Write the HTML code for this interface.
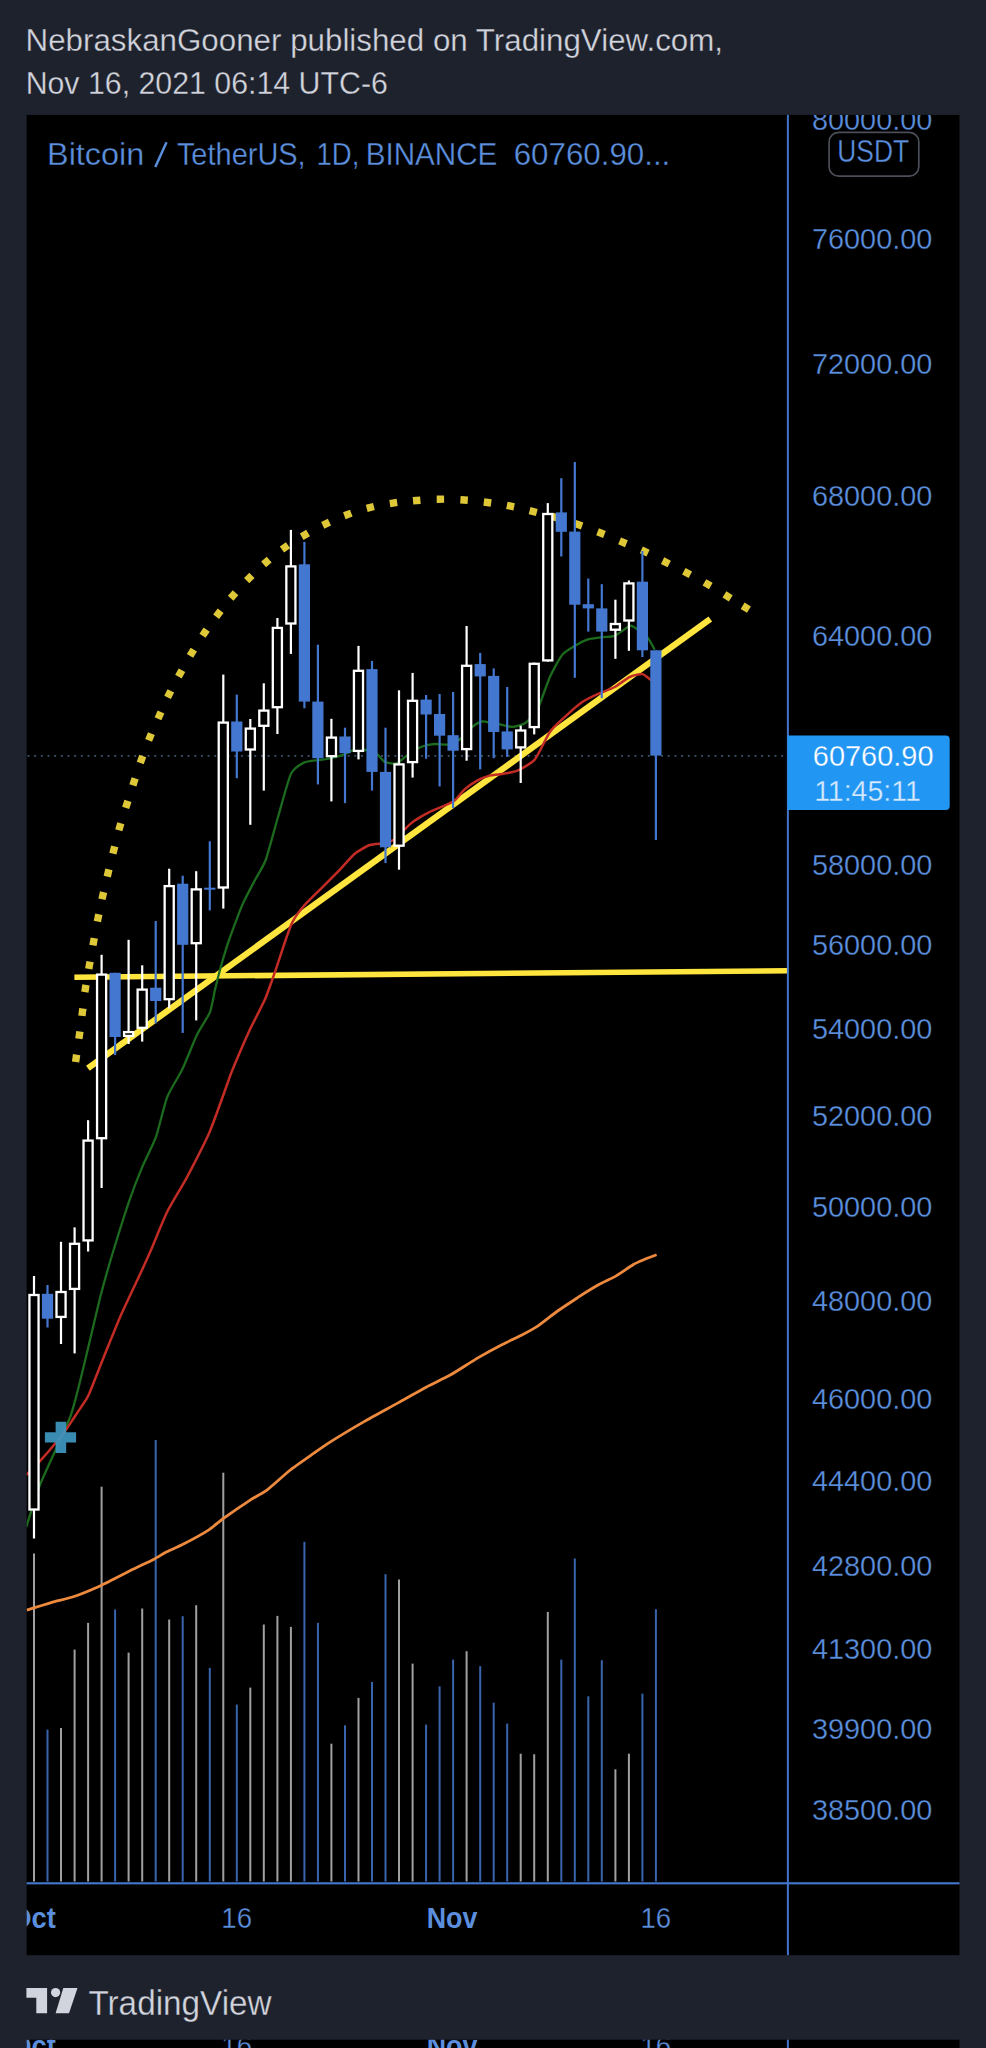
<!DOCTYPE html>
<html><head><meta charset="utf-8"><title>chart</title>
<style>
html,body{margin:0;padding:0;background:#1e222d;}
body{width:986px;height:2048px;overflow:hidden;}
svg{display:block;}
text{font-family:"Liberation Sans",sans-serif;}
</style></head><body>
<svg width="986" height="2048" viewBox="0 0 986 2048">
<rect x="0" y="0" width="986" height="2048" fill="#1e222d"/>
<text x="25.58" y="50.7" font-size="31" fill="#d1d4dc" textLength="697.41" lengthAdjust="spacingAndGlyphs" xml:space="preserve" stroke="#1e222d" stroke-width="0.3">NebraskanGooner published on TradingView.com,</text>
<text x="25.64" y="93.5" font-size="31" fill="#d1d4dc" textLength="362.24" lengthAdjust="spacingAndGlyphs" xml:space="preserve" stroke="#1e222d" stroke-width="0.3">Nov 16, 2021 06:14 UTC-6</text>
<defs><clipPath id="cc"><rect x="26.6" y="114.9" width="932.9" height="1840.3"/></clipPath>
<clipPath id="cb"><rect x="26.6" y="2039.7" width="932.9" height="9"/></clipPath></defs>
<rect x="26.6" y="114.9" width="932.9" height="1840.3" fill="#000"/>
<rect x="26.6" y="2039.7" width="932.9" height="9" fill="#000"/>
<g clip-path="url(#cc)">

<line x1="27.5" y1="755.9" x2="787" y2="755.9" stroke="#43536e" stroke-width="1.9" stroke-dasharray="1.9 4.77"/>
<rect x="33.0" y="1553.5" width="2" height="328.0" fill="#a0a0a0"/>
<rect x="46.5" y="1729.6" width="2" height="151.9" fill="#3865ab"/>
<rect x="60.0" y="1728.0" width="2" height="153.5" fill="#a0a0a0"/>
<rect x="73.6" y="1649.6" width="2" height="231.9" fill="#a0a0a0"/>
<rect x="87.1" y="1622.9" width="2" height="258.6" fill="#a0a0a0"/>
<rect x="100.6" y="1486.7" width="2" height="394.8" fill="#a0a0a0"/>
<rect x="114.1" y="1609.5" width="2" height="272.0" fill="#3865ab"/>
<rect x="127.6" y="1652.6" width="2" height="228.9" fill="#a0a0a0"/>
<rect x="141.2" y="1608.5" width="2" height="273.0" fill="#a0a0a0"/>
<rect x="154.7" y="1440.0" width="2" height="441.5" fill="#3865ab"/>
<rect x="168.2" y="1619.5" width="2" height="262.0" fill="#a0a0a0"/>
<rect x="181.7" y="1616.2" width="2" height="265.3" fill="#3865ab"/>
<rect x="195.2" y="1605.2" width="2" height="276.3" fill="#a0a0a0"/>
<rect x="208.8" y="1667.9" width="2" height="213.6" fill="#3865ab"/>
<rect x="222.3" y="1472.7" width="2" height="408.8" fill="#a0a0a0"/>
<rect x="235.8" y="1704.6" width="2" height="176.9" fill="#3865ab"/>
<rect x="249.3" y="1687.6" width="2" height="193.9" fill="#a0a0a0"/>
<rect x="262.8" y="1624.5" width="2" height="257.0" fill="#a0a0a0"/>
<rect x="276.4" y="1615.9" width="2" height="265.6" fill="#a0a0a0"/>
<rect x="289.9" y="1626.9" width="2" height="254.6" fill="#a0a0a0"/>
<rect x="303.4" y="1541.8" width="2" height="339.7" fill="#3865ab"/>
<rect x="316.9" y="1622.9" width="2" height="258.6" fill="#3865ab"/>
<rect x="330.4" y="1743.7" width="2" height="137.8" fill="#a0a0a0"/>
<rect x="344.0" y="1725.3" width="2" height="156.2" fill="#3865ab"/>
<rect x="357.5" y="1697.9" width="2" height="183.6" fill="#a0a0a0"/>
<rect x="371.0" y="1681.9" width="2" height="199.6" fill="#3865ab"/>
<rect x="384.5" y="1574.2" width="2" height="307.3" fill="#3865ab"/>
<rect x="398.0" y="1579.5" width="2" height="302.0" fill="#a0a0a0"/>
<rect x="411.6" y="1663.6" width="2" height="217.9" fill="#a0a0a0"/>
<rect x="425.1" y="1724.6" width="2" height="156.9" fill="#3865ab"/>
<rect x="438.6" y="1686.3" width="2" height="195.2" fill="#3865ab"/>
<rect x="452.1" y="1659.6" width="2" height="221.9" fill="#3865ab"/>
<rect x="465.6" y="1651.2" width="2" height="230.3" fill="#a0a0a0"/>
<rect x="479.2" y="1666.2" width="2" height="215.3" fill="#3865ab"/>
<rect x="492.7" y="1702.6" width="2" height="178.9" fill="#3865ab"/>
<rect x="506.2" y="1723.6" width="2" height="157.9" fill="#3865ab"/>
<rect x="519.7" y="1753.7" width="2" height="127.8" fill="#a0a0a0"/>
<rect x="533.2" y="1754.3" width="2" height="127.2" fill="#a0a0a0"/>
<rect x="546.8" y="1611.9" width="2" height="269.6" fill="#a0a0a0"/>
<rect x="560.3" y="1659.6" width="2" height="221.9" fill="#3865ab"/>
<rect x="573.8" y="1558.5" width="2" height="323.0" fill="#3865ab"/>
<rect x="587.3" y="1696.3" width="2" height="185.2" fill="#3865ab"/>
<rect x="600.8" y="1660.2" width="2" height="221.3" fill="#3865ab"/>
<rect x="614.4" y="1769.3" width="2" height="112.2" fill="#a0a0a0"/>
<rect x="627.9" y="1753.7" width="2" height="127.8" fill="#a0a0a0"/>
<rect x="641.4" y="1693.6" width="2" height="187.9" fill="#3865ab"/>
<rect x="654.9" y="1609.2" width="2" height="272.3" fill="#3865ab"/>
<line x1="74.4" y1="977.2" x2="787" y2="970.8" stroke="#ffe53e" stroke-width="5.6"/>
<line x1="87.9" y1="1068.3" x2="710.3" y2="619.1" stroke="#ffe53e" stroke-width="6.2"/>
<path d="M26.7 1610.2 C29.4 1609.4 48.7 1603.1 53.4 1601.8 C58.1 1600.5 68.6 1598.5 73.4 1596.8 C78.2 1595.1 96.0 1587.8 101.7 1585.2 C107.4 1582.6 124.9 1573.4 130.1 1570.8 C135.3 1568.2 149.8 1561.4 153.5 1559.5 C157.2 1557.6 163.8 1553.3 166.8 1551.8 C169.8 1550.3 179.3 1546.3 183.5 1544.1 C187.7 1541.9 204.5 1532.7 208.5 1530.1 C212.5 1527.5 219.3 1521.4 223.5 1518.4 C227.7 1515.4 245.9 1502.9 250.2 1500.1 C254.5 1497.3 262.9 1493.1 266.9 1490.1 C270.9 1487.1 285.6 1473.7 290.3 1470.0 C295.0 1466.3 309.6 1456.2 313.6 1453.4 C317.6 1450.6 324.9 1445.3 330.0 1442.1 C335.1 1438.9 357.6 1425.4 364.5 1421.4 C371.4 1417.4 392.8 1405.9 399.0 1402.4 C405.2 1399.0 421.4 1389.7 426.6 1386.9 C431.8 1384.1 445.5 1377.7 450.7 1374.8 C455.9 1371.9 473.1 1360.6 478.3 1357.6 C483.5 1354.6 498.1 1346.7 502.4 1344.5 C506.7 1342.3 517.9 1337.0 521.4 1335.2 C524.9 1333.4 533.3 1329.0 536.9 1326.6 C540.5 1324.2 553.5 1313.9 557.6 1311.0 C561.7 1308.1 574.2 1299.9 578.3 1297.2 C582.4 1294.5 595.2 1286.6 599.0 1284.5 C602.8 1282.4 612.8 1277.9 616.2 1275.9 C619.6 1273.9 630.5 1266.2 633.4 1264.5 C636.3 1262.8 643.2 1260.0 645.5 1259.0 C647.8 1258.0 655.5 1255.2 656.6 1254.8" fill="none" stroke="#ee8a3e" stroke-width="2.8" stroke-linejoin="round"/>
<path d="M26.3 1527.0 C27.7 1522.7 35.9 1495.2 40.3 1484.0 C44.7 1472.8 66.1 1428.2 70.7 1415.5 C75.3 1402.8 82.9 1369.4 85.9 1357.2 C88.9 1345.0 98.3 1304.5 101.1 1293.8 C103.9 1283.1 110.7 1259.5 113.6 1250.0 C116.5 1240.5 126.9 1207.6 129.8 1199.3 C132.7 1191.0 139.7 1173.1 142.3 1166.9 C144.9 1160.7 153.5 1143.9 156.0 1136.9 C158.5 1129.9 164.6 1103.7 167.2 1097.0 C169.8 1090.3 179.2 1075.8 182.2 1069.6 C185.2 1063.4 194.3 1040.3 197.1 1034.6 C199.9 1028.8 208.2 1016.6 210.0 1012.1 C211.8 1007.6 214.0 993.9 215.0 989.7 C216.0 985.5 218.8 974.2 220.0 969.7 C221.2 965.2 225.7 950.0 227.4 944.8 C229.1 939.6 235.7 921.8 237.4 917.3 C239.1 912.8 242.8 903.7 244.6 900.0 C246.4 896.3 252.9 884.0 255.0 880.0 C257.1 876.0 263.4 866.3 265.7 860.0 C268.0 853.7 275.5 825.6 278.0 817.0 C280.5 808.4 288.3 779.3 290.9 773.9 C293.5 768.5 301.1 764.0 303.9 762.6 C306.7 761.2 315.9 760.5 318.5 760.1 C321.1 759.7 327.3 759.1 329.9 758.5 C332.5 757.9 342.2 755.2 344.5 754.4 C346.8 753.6 351.1 750.9 352.6 750.4 C354.1 749.9 357.6 749.3 359.8 749.5 C362.0 749.7 372.3 750.8 374.8 752.0 C377.3 753.2 382.6 760.8 384.8 761.9 C387.0 763.0 394.7 764.1 397.2 763.2 C399.7 762.3 407.2 754.9 409.7 753.2 C412.2 751.5 419.7 747.4 422.2 746.5 C424.7 745.6 432.0 744.2 434.7 744.0 C437.4 743.8 447.1 745.0 449.6 744.5 C452.1 744.0 457.4 741.2 459.6 739.5 C461.9 737.8 469.9 728.8 472.1 727.0 C474.4 725.2 480.1 721.9 482.1 721.5 C484.1 721.1 490.2 723.0 492.0 723.3 C493.8 723.6 497.9 724.0 500.0 724.4 C502.1 724.8 510.0 727.0 512.5 726.9 C515.0 726.8 522.5 724.9 525.0 723.2 C527.5 721.5 534.9 714.1 537.4 709.5 C539.9 704.9 547.4 682.5 549.9 677.0 C552.4 671.5 559.9 657.7 562.4 654.6 C564.9 651.5 572.4 647.3 574.9 645.8 C577.4 644.3 584.6 640.5 587.3 639.6 C590.0 638.7 599.5 637.5 602.3 637.1 C605.0 636.7 612.1 637.0 614.8 635.9 C617.5 634.8 627.6 626.6 629.7 625.9 C631.8 625.1 634.2 627.3 636.0 628.4 C637.8 629.5 645.3 635.0 647.2 637.1 C649.1 639.2 654.0 648.4 654.7 649.6" fill="none" stroke="#1c6a1e" stroke-width="2.3" stroke-linejoin="round"/>
<path d="M26.3 1475.0 C27.7 1473.5 37.8 1463.4 40.6 1460.3 C43.5 1457.2 52.2 1447.2 54.8 1444.0 C57.4 1440.8 65.0 1431.0 66.9 1428.4 C68.8 1425.8 72.6 1419.8 74.0 1417.7 C75.4 1415.6 79.6 1409.3 81.1 1407.1 C82.5 1404.8 86.2 1400.2 88.5 1395.2 C90.8 1390.2 100.4 1365.3 103.7 1357.2 C107.0 1349.1 117.9 1322.2 121.4 1314.1 C125.0 1306.0 136.2 1282.4 139.2 1276.0 C142.2 1269.6 148.2 1256.4 151.0 1250.0 C153.8 1243.6 163.6 1219.1 167.2 1211.8 C170.8 1204.5 183.0 1184.8 187.2 1176.8 C191.4 1168.8 205.6 1141.1 209.6 1131.9 C213.6 1122.7 224.8 1090.7 227.1 1084.5 C229.4 1078.3 230.1 1075.5 232.4 1070.0 C234.7 1064.5 246.7 1036.6 249.9 1029.6 C253.2 1022.6 262.4 1005.3 264.9 999.6 C267.4 993.9 272.9 977.9 274.9 972.2 C276.9 966.5 283.1 947.3 284.8 942.3 C286.5 937.3 290.3 926.0 292.3 922.3 C294.3 918.5 301.6 908.5 304.8 904.8 C308.1 901.1 321.3 888.4 324.8 884.9 C328.3 881.4 336.7 873.0 339.7 869.9 C342.7 866.8 351.7 856.2 354.7 853.7 C357.7 851.2 366.7 846.1 369.7 845.0 C372.7 843.9 382.3 843.6 384.8 843.0 C387.3 842.4 392.7 840.7 394.7 839.3 C396.7 837.9 402.7 831.2 404.7 829.3 C406.7 827.4 412.2 822.4 414.7 820.6 C417.2 818.9 426.7 813.3 429.7 811.8 C432.7 810.3 442.1 806.7 444.6 805.6 C447.1 804.5 452.6 802.2 454.6 800.6 C456.6 799.0 462.4 791.4 464.6 789.4 C466.9 787.4 474.6 782.0 477.1 780.6 C479.6 779.2 487.2 776.2 489.5 775.6 C491.8 775.0 497.2 774.8 500.0 774.3 C502.8 773.8 514.0 772.1 517.5 770.6 C521.0 769.1 531.7 763.3 534.9 759.4 C538.1 755.5 546.9 736.1 549.9 731.9 C552.9 727.6 561.7 719.9 564.9 716.9 C568.1 713.9 578.8 704.4 582.3 702.0 C585.8 699.6 596.5 694.7 599.8 693.2 C603.0 691.7 611.8 688.6 614.8 687.0 C617.8 685.4 627.0 678.3 629.7 677.0 C632.4 675.7 640.1 673.7 642.2 674.0 C644.3 674.3 650.0 679.4 650.9 680.0" fill="none" stroke="#c22c25" stroke-width="2.5" stroke-linejoin="round"/>
<rect x="-3.7" y="-3.7" width="7.4" height="7.4" fill="#dfc838" transform="translate(76.1 1058.3) rotate(-81.9)"/>
<rect x="-3.7" y="-3.7" width="7.4" height="7.4" fill="#dfc838" transform="translate(79.4 1035.1) rotate(-82.2)"/>
<rect x="-3.7" y="-3.7" width="7.4" height="7.4" fill="#dfc838" transform="translate(82.4 1012.2) rotate(-82.7)"/>
<rect x="-3.7" y="-3.7" width="7.4" height="7.4" fill="#dfc838" transform="translate(85.4 988.5) rotate(-81.5)"/>
<rect x="-3.7" y="-3.7" width="7.4" height="7.4" fill="#dfc838" transform="translate(89.4 965.3) rotate(-80.0)"/>
<rect x="-3.7" y="-3.7" width="7.4" height="7.4" fill="#dfc838" transform="translate(93.6 941.8) rotate(-79.6)"/>
<rect x="-3.7" y="-3.7" width="7.4" height="7.4" fill="#dfc838" transform="translate(98.1 917.9) rotate(-78.7)"/>
<rect x="-3.7" y="-3.7" width="7.4" height="7.4" fill="#dfc838" transform="translate(102.8 895.7) rotate(-77.4)"/>
<rect x="-3.7" y="-3.7" width="7.4" height="7.4" fill="#dfc838" transform="translate(108.1 873.0) rotate(-76.5)"/>
<rect x="-3.7" y="-3.7" width="7.4" height="7.4" fill="#dfc838" transform="translate(113.8 850.0) rotate(-75.8)"/>
<rect x="-3.7" y="-3.7" width="7.4" height="7.4" fill="#dfc838" transform="translate(119.8 826.8) rotate(-74.1)"/>
<rect x="-3.7" y="-3.7" width="7.4" height="7.4" fill="#dfc838" transform="translate(126.8 804.4) rotate(-72.5)"/>
<rect x="-3.7" y="-3.7" width="7.4" height="7.4" fill="#dfc838" transform="translate(134.0 781.9) rotate(-71.9)"/>
<rect x="-3.7" y="-3.7" width="7.4" height="7.4" fill="#dfc838" transform="translate(141.5 759.4) rotate(-70.4)"/>
<rect x="-3.7" y="-3.7" width="7.4" height="7.4" fill="#dfc838" transform="translate(150.0 737.0) rotate(-67.8)"/>
<rect x="-3.7" y="-3.7" width="7.4" height="7.4" fill="#dfc838" transform="translate(159.5 715.3) rotate(-65.9)"/>
<rect x="-3.7" y="-3.7" width="7.4" height="7.4" fill="#dfc838" transform="translate(169.2 694.1) rotate(-63.7)"/>
<rect x="-3.7" y="-3.7" width="7.4" height="7.4" fill="#dfc838" transform="translate(180.2 673.4) rotate(-61.3)"/>
<rect x="-3.7" y="-3.7" width="7.4" height="7.4" fill="#dfc838" transform="translate(191.9 652.7) rotate(-59.1)"/>
<rect x="-3.7" y="-3.7" width="7.4" height="7.4" fill="#dfc838" transform="translate(204.6 632.7) rotate(-55.8)"/>
<rect x="-3.7" y="-3.7" width="7.4" height="7.4" fill="#dfc838" transform="translate(218.4 613.7) rotate(-52.5)"/>
<rect x="-3.7" y="-3.7" width="7.4" height="7.4" fill="#dfc838" transform="translate(233.1 595.5) rotate(-49.0)"/>
<rect x="-3.7" y="-3.7" width="7.4" height="7.4" fill="#dfc838" transform="translate(249.3 578.1) rotate(-45.2)"/>
<rect x="-3.7" y="-3.7" width="7.4" height="7.4" fill="#dfc838" transform="translate(266.4 562.0) rotate(-40.7)"/>
<rect x="-3.7" y="-3.7" width="7.4" height="7.4" fill="#dfc838" transform="translate(285.0 547.4) rotate(-35.1)"/>
<rect x="-3.7" y="-3.7" width="7.4" height="7.4" fill="#dfc838" transform="translate(304.9 534.9) rotate(-30.0)"/>
<rect x="-3.7" y="-3.7" width="7.4" height="7.4" fill="#dfc838" transform="translate(326.1 523.7) rotate(-25.5)"/>
<rect x="-3.7" y="-3.7" width="7.4" height="7.4" fill="#dfc838" transform="translate(347.8 514.4) rotate(-20.2)"/>
<rect x="-3.7" y="-3.7" width="7.4" height="7.4" fill="#dfc838" transform="translate(370.3 507.4) rotate(-14.0)"/>
<rect x="-3.7" y="-3.7" width="7.4" height="7.4" fill="#dfc838" transform="translate(393.5 503.0) rotate(-8.5)"/>
<rect x="-3.7" y="-3.7" width="7.4" height="7.4" fill="#dfc838" transform="translate(416.7 500.5) rotate(-4.6)"/>
<rect x="-3.7" y="-3.7" width="7.4" height="7.4" fill="#dfc838" transform="translate(440.4 499.2) rotate(-0.6)"/>
<rect x="-3.7" y="-3.7" width="7.4" height="7.4" fill="#dfc838" transform="translate(464.1 500.0) rotate(4.0)"/>
<rect x="-3.7" y="-3.7" width="7.4" height="7.4" fill="#dfc838" transform="translate(487.5 502.5) rotate(7.5)"/>
<rect x="-3.7" y="-3.7" width="7.4" height="7.4" fill="#dfc838" transform="translate(510.5 506.1) rotate(11.3)"/>
<rect x="-3.7" y="-3.7" width="7.4" height="7.4" fill="#dfc838" transform="translate(533.2 511.6) rotate(14.0)"/>
<rect x="-3.7" y="-3.7" width="7.4" height="7.4" fill="#dfc838" transform="translate(555.4 517.3) rotate(16.2)"/>
<rect x="-3.7" y="-3.7" width="7.4" height="7.4" fill="#dfc838" transform="translate(578.6 524.8) rotate(19.1)"/>
<rect x="-3.7" y="-3.7" width="7.4" height="7.4" fill="#dfc838" transform="translate(601.0 533.1) rotate(21.5)"/>
<rect x="-3.7" y="-3.7" width="7.4" height="7.4" fill="#dfc838" transform="translate(623.0 542.3) rotate(22.8)"/>
<rect x="-3.7" y="-3.7" width="7.4" height="7.4" fill="#dfc838" transform="translate(644.7 551.5) rotate(25.0)"/>
<rect x="-3.7" y="-3.7" width="7.4" height="7.4" fill="#dfc838" transform="translate(665.9 562.3) rotate(26.9)"/>
<rect x="-3.7" y="-3.7" width="7.4" height="7.4" fill="#dfc838" transform="translate(687.1 573.0) rotate(27.7)"/>
<rect x="-3.7" y="-3.7" width="7.4" height="7.4" fill="#dfc838" transform="translate(707.6 584.2) rotate(30.0)"/>
<rect x="-3.7" y="-3.7" width="7.4" height="7.4" fill="#dfc838" transform="translate(727.6 596.4) rotate(31.6)"/>
<rect x="-3.7" y="-3.7" width="7.4" height="7.4" fill="#dfc838" transform="translate(745.8 607.7) rotate(31.8)"/>
<rect x="32.9" y="1276.0" width="2.2" height="262.5" fill="#fff"/>
<rect x="29.45" y="1295.0" width="9.1" height="214.5" fill="#000" stroke="#fff" stroke-width="2.3"/>
<rect x="46.4" y="1285.0" width="2.2" height="42.5" fill="#4478d0"/>
<rect x="41.9" y="1293.8" width="11.2" height="24.9" fill="#4478d0"/>
<rect x="59.9" y="1241.8" width="2.2" height="102.2" fill="#fff"/>
<rect x="56.49" y="1292.0" width="9.1" height="24.9" fill="#000" stroke="#fff" stroke-width="2.3"/>
<rect x="73.5" y="1227.4" width="2.2" height="126.0" fill="#fff"/>
<rect x="70.01" y="1243.8" width="9.1" height="45.1" fill="#000" stroke="#fff" stroke-width="2.3"/>
<rect x="87.0" y="1120.2" width="2.2" height="131.3" fill="#fff"/>
<rect x="83.53" y="1140.6" width="9.1" height="99.8" fill="#000" stroke="#fff" stroke-width="2.3"/>
<rect x="100.5" y="954.8" width="2.2" height="233.2" fill="#fff"/>
<rect x="97.05" y="974.6" width="9.1" height="163.6" fill="#000" stroke="#fff" stroke-width="2.3"/>
<rect x="114.0" y="972.8" width="2.2" height="82.2" fill="#4478d0"/>
<rect x="109.5" y="972.8" width="11.2" height="64.2" fill="#4478d0"/>
<rect x="127.5" y="939.8" width="2.2" height="104.2" fill="#fff"/>
<rect x="124.09" y="1032.1" width="9.1" height="3.8" fill="#000" stroke="#fff" stroke-width="2.3"/>
<rect x="141.1" y="965.3" width="2.2" height="76.3" fill="#fff"/>
<rect x="137.61" y="989.6" width="9.1" height="38.2" fill="#000" stroke="#fff" stroke-width="2.3"/>
<rect x="154.6" y="921.0" width="2.2" height="102.4" fill="#4478d0"/>
<rect x="150.1" y="987.7" width="11.2" height="13.3" fill="#4478d0"/>
<rect x="168.1" y="868.7" width="2.2" height="139.7" fill="#fff"/>
<rect x="164.65" y="886.1" width="9.1" height="113.1" fill="#000" stroke="#fff" stroke-width="2.3"/>
<rect x="181.6" y="875.7" width="2.2" height="157.2" fill="#4478d0"/>
<rect x="177.1" y="883.7" width="11.2" height="61.1" fill="#4478d0"/>
<rect x="195.1" y="871.2" width="2.2" height="149.2" fill="#fff"/>
<rect x="191.69" y="889.4" width="9.1" height="53.8" fill="#000" stroke="#fff" stroke-width="2.3"/>
<rect x="208.7" y="841.3" width="2.2" height="69.1" fill="#4478d0"/>
<rect x="204.2" y="887.7" width="11.2" height="2.0" fill="#4478d0"/>
<rect x="222.2" y="674.6" width="2.2" height="234.0" fill="#fff"/>
<rect x="218.73" y="722.6" width="9.1" height="164.9" fill="#000" stroke="#fff" stroke-width="2.3"/>
<rect x="235.7" y="694.6" width="2.2" height="83.6" fill="#4478d0"/>
<rect x="231.2" y="721.5" width="11.2" height="30.0" fill="#4478d0"/>
<rect x="249.2" y="719.0" width="2.2" height="105.8" fill="#fff"/>
<rect x="245.77" y="728.6" width="9.1" height="20.9" fill="#000" stroke="#fff" stroke-width="2.3"/>
<rect x="262.7" y="683.3" width="2.2" height="107.3" fill="#fff"/>
<rect x="259.29" y="710.6" width="9.1" height="15.2" fill="#000" stroke="#fff" stroke-width="2.3"/>
<rect x="276.3" y="618.0" width="2.2" height="116.0" fill="#fff"/>
<rect x="272.81" y="627.9" width="9.1" height="79.3" fill="#000" stroke="#fff" stroke-width="2.3"/>
<rect x="289.8" y="529.9" width="2.2" height="124.0" fill="#fff"/>
<rect x="286.33" y="566.4" width="9.1" height="57.1" fill="#000" stroke="#fff" stroke-width="2.3"/>
<rect x="303.3" y="541.9" width="2.2" height="166.4" fill="#4478d0"/>
<rect x="298.8" y="564.3" width="11.2" height="137.3" fill="#4478d0"/>
<rect x="316.8" y="644.7" width="2.2" height="139.7" fill="#4478d0"/>
<rect x="312.3" y="701.6" width="11.2" height="56.6" fill="#4478d0"/>
<rect x="330.3" y="718.8" width="2.2" height="82.6" fill="#fff"/>
<rect x="326.89" y="737.6" width="9.1" height="18.6" fill="#000" stroke="#fff" stroke-width="2.3"/>
<rect x="343.9" y="727.7" width="2.2" height="75.4" fill="#4478d0"/>
<rect x="339.4" y="736.5" width="11.2" height="16.7" fill="#4478d0"/>
<rect x="357.4" y="645.9" width="2.2" height="113.5" fill="#fff"/>
<rect x="353.93" y="670.8" width="9.1" height="80.1" fill="#000" stroke="#fff" stroke-width="2.3"/>
<rect x="370.9" y="660.9" width="2.2" height="129.7" fill="#4478d0"/>
<rect x="366.4" y="669.1" width="11.2" height="102.8" fill="#4478d0"/>
<rect x="384.4" y="727.7" width="2.2" height="135.3" fill="#4478d0"/>
<rect x="379.9" y="771.9" width="11.2" height="75.4" fill="#4478d0"/>
<rect x="397.9" y="690.3" width="2.2" height="179.4" fill="#fff"/>
<rect x="394.49" y="764.4" width="9.1" height="81.3" fill="#000" stroke="#fff" stroke-width="2.3"/>
<rect x="411.5" y="672.9" width="2.2" height="104.7" fill="#fff"/>
<rect x="408.01" y="700.8" width="9.1" height="61.3" fill="#000" stroke="#fff" stroke-width="2.3"/>
<rect x="425.0" y="695.0" width="2.2" height="63.7" fill="#4478d0"/>
<rect x="420.5" y="699.6" width="11.2" height="14.9" fill="#4478d0"/>
<rect x="438.5" y="694.0" width="2.2" height="92.4" fill="#4478d0"/>
<rect x="434.0" y="714.0" width="11.2" height="21.7" fill="#4478d0"/>
<rect x="452.0" y="692.0" width="2.2" height="116.0" fill="#4478d0"/>
<rect x="447.5" y="735.2" width="11.2" height="15.5" fill="#4478d0"/>
<rect x="465.5" y="626.0" width="2.2" height="134.7" fill="#fff"/>
<rect x="462.09" y="665.8" width="9.1" height="83.3" fill="#000" stroke="#fff" stroke-width="2.3"/>
<rect x="479.1" y="652.9" width="2.2" height="116.5" fill="#4478d0"/>
<rect x="474.6" y="664.1" width="11.2" height="12.3" fill="#4478d0"/>
<rect x="492.6" y="668.4" width="2.2" height="89.8" fill="#4478d0"/>
<rect x="488.1" y="675.9" width="11.2" height="56.1" fill="#4478d0"/>
<rect x="506.1" y="687.0" width="2.2" height="69.9" fill="#4478d0"/>
<rect x="501.6" y="731.4" width="11.2" height="18.0" fill="#4478d0"/>
<rect x="519.6" y="725.7" width="2.2" height="57.3" fill="#fff"/>
<rect x="516.17" y="730.5" width="9.1" height="16.9" fill="#000" stroke="#fff" stroke-width="2.3"/>
<rect x="533.1" y="662.6" width="2.2" height="71.8" fill="#fff"/>
<rect x="529.69" y="663.8" width="9.1" height="63.3" fill="#000" stroke="#fff" stroke-width="2.3"/>
<rect x="546.7" y="503.1" width="2.2" height="158.5" fill="#fff"/>
<rect x="543.21" y="514.0" width="9.1" height="146.4" fill="#000" stroke="#fff" stroke-width="2.3"/>
<rect x="560.2" y="478.2" width="2.2" height="78.3" fill="#4478d0"/>
<rect x="555.7" y="512.4" width="11.2" height="19.4" fill="#4478d0"/>
<rect x="573.7" y="462.0" width="2.2" height="215.8" fill="#4478d0"/>
<rect x="569.2" y="531.6" width="11.2" height="73.1" fill="#4478d0"/>
<rect x="587.2" y="578.5" width="2.2" height="53.1" fill="#4478d0"/>
<rect x="582.7" y="604.2" width="11.2" height="4.2" fill="#4478d0"/>
<rect x="600.7" y="584.2" width="2.2" height="114.0" fill="#4478d0"/>
<rect x="596.2" y="608.4" width="11.2" height="23.2" fill="#4478d0"/>
<rect x="614.3" y="599.7" width="2.2" height="59.1" fill="#fff"/>
<rect x="610.81" y="624.0" width="9.1" height="5.7" fill="#000" stroke="#fff" stroke-width="2.3"/>
<rect x="627.8" y="580.5" width="2.2" height="70.3" fill="#fff"/>
<rect x="624.33" y="583.4" width="9.1" height="37.1" fill="#000" stroke="#fff" stroke-width="2.3"/>
<rect x="641.3" y="551.0" width="2.2" height="106.0" fill="#4478d0"/>
<rect x="636.8" y="581.7" width="11.2" height="68.6" fill="#4478d0"/>
<rect x="654.8" y="650.3" width="2.2" height="189.7" fill="#4478d0"/>
<rect x="650.3" y="650.3" width="11.2" height="105.3" fill="#4478d0"/>
<path d="M55.6 1421.7H66.2V1432.3H76.1V1442.6H66.2V1452.9H55.6V1442.6H44.9V1432.3H55.6Z" fill="#3e96be" opacity="0.93"/>
</g>
<rect x="786.9" y="114.9" width="2" height="1840.3" fill="#4274c8"/>
<rect x="26.6" y="1882.2" width="932.9" height="2.2" fill="#4274c8"/>
<rect x="786.9" y="2039.7" width="2" height="9" fill="#4274c8"/>
<g clip-path="url(#cc)">
<text x="811.95" y="129.6" font-size="30.4" fill="#5b8fde" textLength="120.38" lengthAdjust="spacingAndGlyphs" xml:space="preserve" stroke="#000" stroke-width="0.3">80000.00</text>
<text x="811.95" y="249" font-size="30.4" fill="#5b8fde" textLength="120.38" lengthAdjust="spacingAndGlyphs" xml:space="preserve" stroke="#000" stroke-width="0.3">76000.00</text>
<text x="811.95" y="373.8" font-size="30.4" fill="#5b8fde" textLength="120.38" lengthAdjust="spacingAndGlyphs" xml:space="preserve" stroke="#000" stroke-width="0.3">72000.00</text>
<text x="811.95" y="506.3" font-size="30.4" fill="#5b8fde" textLength="120.38" lengthAdjust="spacingAndGlyphs" xml:space="preserve" stroke="#000" stroke-width="0.3">68000.00</text>
<text x="811.95" y="646.2" font-size="30.4" fill="#5b8fde" textLength="120.38" lengthAdjust="spacingAndGlyphs" xml:space="preserve" stroke="#000" stroke-width="0.3">64000.00</text>
<text x="811.95" y="874.6" font-size="30.4" fill="#5b8fde" textLength="120.38" lengthAdjust="spacingAndGlyphs" xml:space="preserve" stroke="#000" stroke-width="0.3">58000.00</text>
<text x="811.95" y="955" font-size="30.4" fill="#5b8fde" textLength="120.38" lengthAdjust="spacingAndGlyphs" xml:space="preserve" stroke="#000" stroke-width="0.3">56000.00</text>
<text x="811.95" y="1039.3" font-size="30.4" fill="#5b8fde" textLength="120.38" lengthAdjust="spacingAndGlyphs" xml:space="preserve" stroke="#000" stroke-width="0.3">54000.00</text>
<text x="811.95" y="1125.7" font-size="30.4" fill="#5b8fde" textLength="120.38" lengthAdjust="spacingAndGlyphs" xml:space="preserve" stroke="#000" stroke-width="0.3">52000.00</text>
<text x="811.95" y="1216.7" font-size="30.4" fill="#5b8fde" textLength="120.38" lengthAdjust="spacingAndGlyphs" xml:space="preserve" stroke="#000" stroke-width="0.3">50000.00</text>
<text x="811.95" y="1311" font-size="30.4" fill="#5b8fde" textLength="120.38" lengthAdjust="spacingAndGlyphs" xml:space="preserve" stroke="#000" stroke-width="0.3">48000.00</text>
<text x="811.95" y="1409" font-size="30.4" fill="#5b8fde" textLength="120.38" lengthAdjust="spacingAndGlyphs" xml:space="preserve" stroke="#000" stroke-width="0.3">46000.00</text>
<text x="811.95" y="1491" font-size="30.4" fill="#5b8fde" textLength="120.38" lengthAdjust="spacingAndGlyphs" xml:space="preserve" stroke="#000" stroke-width="0.3">44400.00</text>
<text x="811.95" y="1576.3" font-size="30.4" fill="#5b8fde" textLength="120.38" lengthAdjust="spacingAndGlyphs" xml:space="preserve" stroke="#000" stroke-width="0.3">42800.00</text>
<text x="811.95" y="1658.7" font-size="30.4" fill="#5b8fde" textLength="120.38" lengthAdjust="spacingAndGlyphs" xml:space="preserve" stroke="#000" stroke-width="0.3">41300.00</text>
<text x="811.95" y="1738.5" font-size="30.4" fill="#5b8fde" textLength="120.38" lengthAdjust="spacingAndGlyphs" xml:space="preserve" stroke="#000" stroke-width="0.3">39900.00</text>
<text x="811.95" y="1820" font-size="30.4" fill="#5b8fde" textLength="120.38" lengthAdjust="spacingAndGlyphs" xml:space="preserve" stroke="#000" stroke-width="0.3">38500.00</text>
</g>
<rect x="829.1" y="132.4" width="89.7" height="43.8" rx="9.5" ry="9.5" fill="#000" stroke="#4b4e58" stroke-width="1.7"/>
<text x="837.31" y="162.3" font-size="31.2" fill="#5b8fde" textLength="71.86" lengthAdjust="spacingAndGlyphs" xml:space="preserve" stroke="#000" stroke-width="0.3">USDT</text>
<path d="M787.5 735.4 H945.7 a4 4 0 0 1 4 4 V805.9 a4 4 0 0 1 -4 4 H787.5 Z" fill="#2196f3"/>
<text x="812.85" y="766.1" font-size="30.4" fill="#ffffff" textLength="120.68" lengthAdjust="spacingAndGlyphs" xml:space="preserve" stroke="#2196f3" stroke-width="0.3">60760.90</text>
<text x="814.13" y="800.5" font-size="30.4" fill="#d6eafd" textLength="106.62" lengthAdjust="spacingAndGlyphs" xml:space="preserve" stroke="#2196f3" stroke-width="0.3">11:45:11</text>
<line x1="155.3" y1="167" x2="166.5" y2="142.3" stroke="#5b8fde" stroke-width="2.5"/>
<text x="47.08" y="164.9" font-size="32" fill="#5b8fde" textLength="97.20" lengthAdjust="spacingAndGlyphs" xml:space="preserve" stroke="#000" stroke-width="0.3">Bitcoin</text>
<text x="176.90" y="164.9" font-size="32" fill="#5b8fde" textLength="128.76" lengthAdjust="spacingAndGlyphs" xml:space="preserve" stroke="#000" stroke-width="0.3">TetherUS,</text>
<text x="316.48" y="164.9" font-size="32" fill="#5b8fde" textLength="42.83" lengthAdjust="spacingAndGlyphs" xml:space="preserve" stroke="#000" stroke-width="0.3">1D,</text>
<text x="365.65" y="164.9" font-size="32" fill="#5b8fde" textLength="131.71" lengthAdjust="spacingAndGlyphs" xml:space="preserve" stroke="#000" stroke-width="0.3">BINANCE</text>
<text x="513.72" y="164.9" font-size="32" fill="#5b8fde" textLength="156.57" lengthAdjust="spacingAndGlyphs" xml:space="preserve" stroke="#000" stroke-width="0.3">60760.90...</text>
<g clip-path="url(#cc)">
<text x="10.36" y="1927.7" font-size="29" font-weight="bold" fill="#5b8fde" textLength="45.57" lengthAdjust="spacingAndGlyphs" xml:space="preserve">Oct</text>
<text x="221.30" y="1927.7" font-size="29" fill="#5b8fde" textLength="30.71" lengthAdjust="spacingAndGlyphs" xml:space="preserve" stroke="#000" stroke-width="0.3">16</text>
<text x="426.65" y="1927.7" font-size="29" font-weight="bold" fill="#5b8fde" textLength="50.76" lengthAdjust="spacingAndGlyphs" xml:space="preserve">Nov</text>
<text x="640.40" y="1927.7" font-size="29" fill="#5b8fde" textLength="30.71" lengthAdjust="spacingAndGlyphs" xml:space="preserve" stroke="#000" stroke-width="0.3">16</text>
</g>
<g clip-path="url(#cb)">
<text x="10.36" y="2055.5" font-size="29" font-weight="bold" fill="#5b8fde" textLength="45.57" lengthAdjust="spacingAndGlyphs" xml:space="preserve">Oct</text>
<text x="221.30" y="2055.5" font-size="29" fill="#5b8fde" textLength="30.71" lengthAdjust="spacingAndGlyphs" xml:space="preserve" stroke="#000" stroke-width="0.3">16</text>
<text x="426.65" y="2055.5" font-size="29" font-weight="bold" fill="#5b8fde" textLength="50.76" lengthAdjust="spacingAndGlyphs" xml:space="preserve">Nov</text>
<text x="640.40" y="2055.5" font-size="29" fill="#5b8fde" textLength="30.71" lengthAdjust="spacingAndGlyphs" xml:space="preserve" stroke="#000" stroke-width="0.3">16</text>
</g>
<g fill="#d1d4dc"><path d="M26.4 1987.9H47.1V2013.2H36.3V1997.8H26.4Z"/><circle cx="55.6" cy="1992.6" r="4.6"/><path d="M63.3 1987.9H77.5L69 2013.2H55.6Z"/></g>
<text x="88.45" y="2014.6" font-size="35" fill="#d1d4dc" textLength="183.18" lengthAdjust="spacingAndGlyphs" xml:space="preserve" stroke="#1e222d" stroke-width="0.3">TradingView</text>
</svg></body></html>
